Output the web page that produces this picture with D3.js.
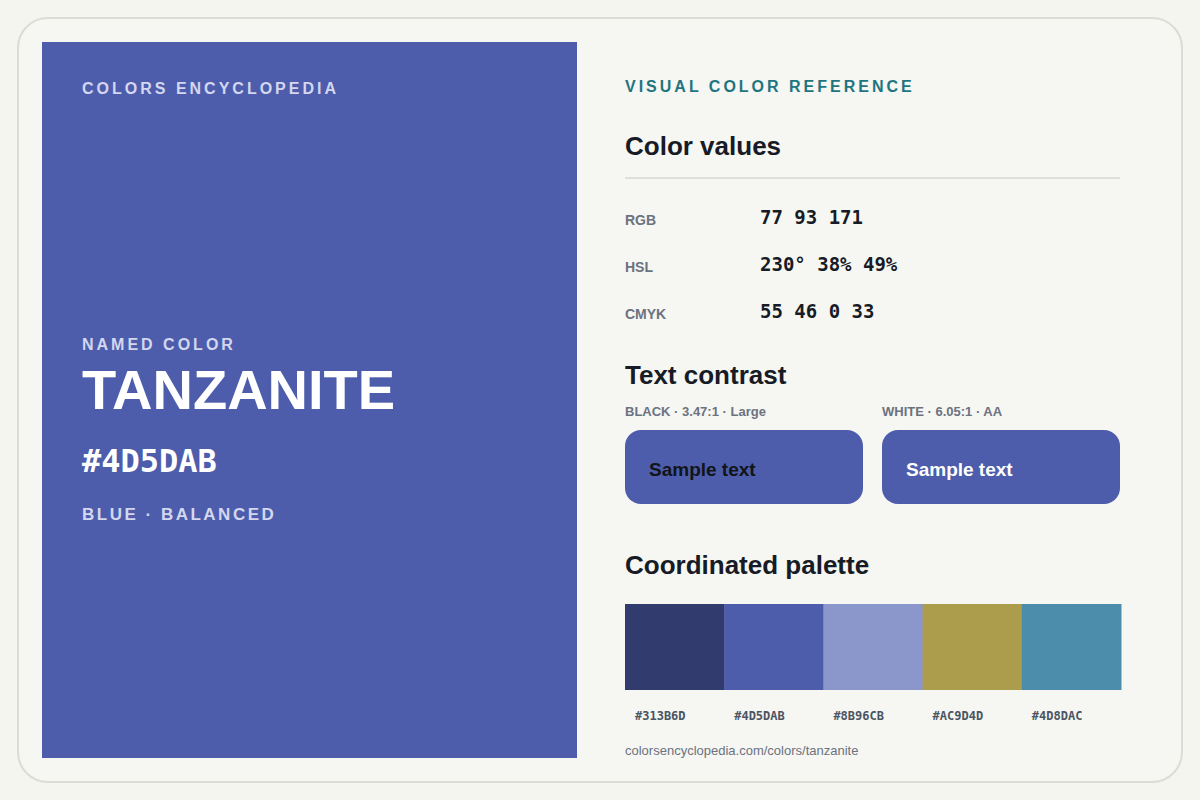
<!DOCTYPE html>
<html><head><meta charset="utf-8">
<script src="https://cdn.jsdelivr.net/npm/d3@7"></script>
<style>body{margin:0;background:#f5f5f0}svg{display:block}</style>
</head><body>
<script>
// data
const colorName = "TANZANITE";
const colorHex = "#4D5DAB";
const valueLabels = ["RGB", "HSL", "CMYK"];
const valueTexts = ["77 93 171", "230° 38% 49%", "55 46 0 33"];
const contrastLabels = ["BLACK · 3.47:1 · Large", "WHITE · 6.05:1 · AA"];
const contrastInk = ["#111418", "#ffffff"];
const palette = ["#313B6D", "#4D5DAB", "#8B96CB", "#AC9D4D", "#4D8DAC"];

const svg = d3.select("body").append("svg").attr("width", 1200).attr("height", 800);
const sans = "Liberation Sans, Arial, sans-serif", mono = "DejaVu Sans Mono, monospace";

svg.append("rect").attr("width", 1200).attr("height", 800).attr("fill", "#f5f5f0");
svg.append("rect").attr("x", 18).attr("y", 18).attr("width", 1164).attr("height", 764).attr("rx", 30)
  .attr("fill", "#f6f6f2").attr("stroke", "#dcdcd6").attr("stroke-width", 2);
svg.append("rect").attr("x", 42).attr("y", 42).attr("width", 535).attr("height", 716).attr("fill", colorHex);

function txt(x, y, s, o) {
  return svg.append("text").attr("x", x).attr("y", y).text(s)
    .attr("font-family", o.f || sans).attr("font-size", o.s).attr("font-weight", o.w || "bold")
    .attr("fill", o.c).attr("letter-spacing", o.ls || 0);
}
// left panel
txt(82, 94, "COLORS ENCYCLOPEDIA", {s: 16, c: "#d3d7ef", ls: 3});
txt(82, 350, "NAMED COLOR", {s: 16, c: "#d3d7ef", ls: 3});
txt(82, 409, colorName, {s: 56, c: "#ffffff"});
txt(82, 472, colorHex, {s: 32, c: "#ffffff", f: mono});
txt(82, 520, "BLUE · BALANCED", {s: 17, c: "#d3d7ef", ls: 2.5});

// right panel
const X = 625, R = 1120;
txt(X, 92, "VISUAL COLOR REFERENCE", {s: 16, c: "#1e7480", ls: 3});
txt(X, 155, "Color values", {s: 26, c: "#161b26"});
svg.append("line").attr("x1", X).attr("x2", R).attr("y1", 178).attr("y2", 178).attr("stroke", "#dedfdc").attr("stroke-width", 2);

const rowY = d3.scalePoint().domain(valueLabels).range([224, 318]);
valueLabels.forEach((l, i) => {
  txt(X, rowY(l) + 1, l, {s: 14, c: "#6b7280"});
  txt(760, rowY(l), valueTexts[i], {s: 19, c: "#161b26", f: mono});
});

txt(X, 384, "Text contrast", {s: 26, c: "#161b26"});
const boxX = d3.scaleBand().domain(contrastLabels).range([X, R + 19]).paddingInner(0);
contrastLabels.forEach((l, i) => {
  const x = boxX(l);
  txt(x, 416, l, {s: 13, c: "#6b7280"});
  svg.append("rect").attr("x", x).attr("y", 430).attr("width", 238).attr("height", 74).attr("rx", 16).attr("fill", colorHex);
  txt(x + 24, 476, "Sample text", {s: 19, c: contrastInk[i]});
});

txt(X, 574, "Coordinated palette", {s: 26, c: "#161b26"});
const sw = d3.scaleBand().domain(palette).range([X, 1121]);
svg.selectAll(".sw").data(palette).join("rect")
  .attr("x", d => sw(d)).attr("y", 604).attr("width", sw.bandwidth() + 0.5).attr("height", 86).attr("fill", d => d);
palette.forEach(d => txt(sw(d) + 10, 720, d, {s: 12, c: "#4b5563", f: mono}));
txt(X, 755, "colorsencyclopedia.com/colors/tanzanite", {s: 13, c: "#6b7280", w: "normal"});
</script>
</body></html>
